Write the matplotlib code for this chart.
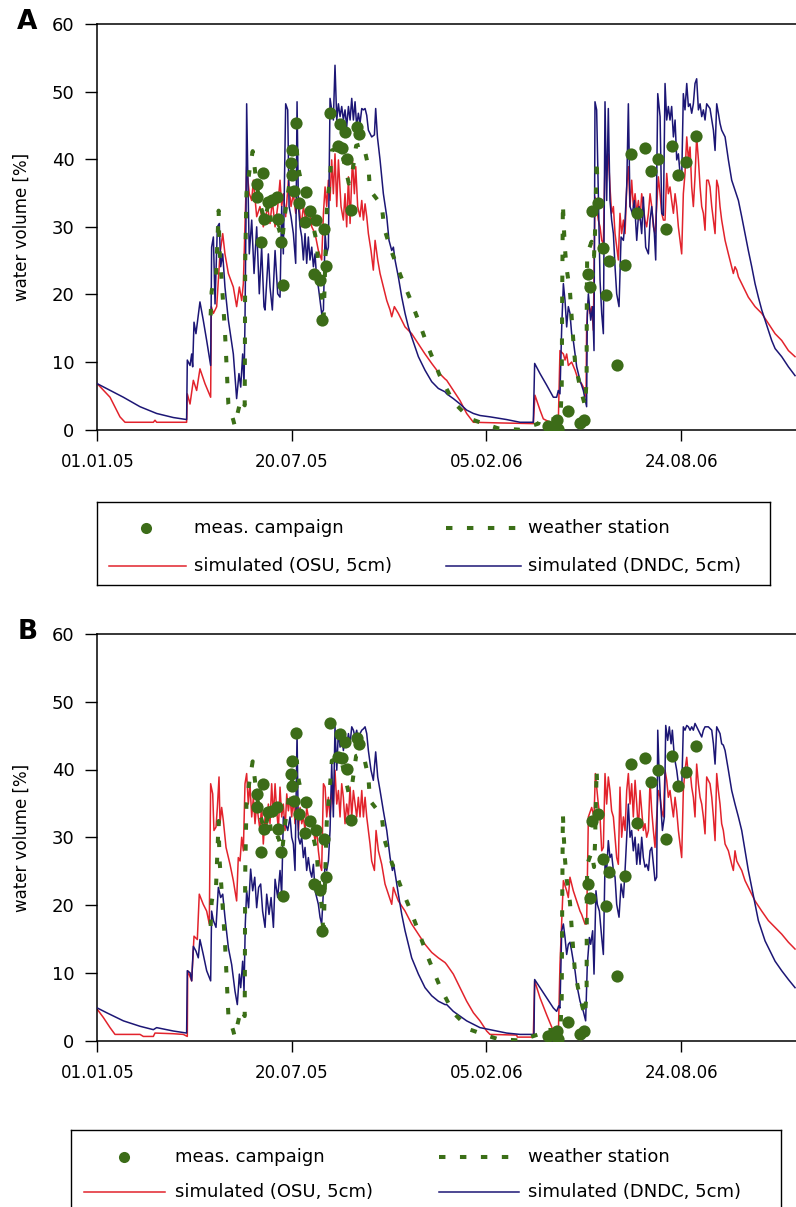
import matplotlib
matplotlib.use("Agg")
import matplotlib.pyplot as plt

plt.rcParams['font.family'] = ['DejaVu Sans']

# ---------------- data (day since 01.01.05, water volume %) ----------------
x_ticks = [0, 200, 400, 600]
x_ticklabels = ["01.01.05", "20.07.05", "05.02.06", "24.08.06"]
y_ticks = [0, 10, 20, 30, 40, 50, 60]

meas_day = [164.5, 164.5, 168.2, 170, 171.7, 175.8, 179.2, 184.4, 186, 188.4, 190.5,
            199, 199.7, 199.7, 202.5, 204.5, 206.8, 213.2, 214.5, 218.6, 222.7,
            224.8, 229, 230.6, 233, 234.7, 239.2, 247, 249.4, 251.1, 254.6,
            257, 260.7, 267.2, 269.3, 463.5, 472, 473.8, 484.1, 496,
            500.1, 504.7, 506.4, 508.4, 514.6, 520.1, 522.5, 526.2, 533.8,
            542.7, 548.5, 554.3, 562.9, 568.7, 576.6, 584.5, 591, 597.1, 605, 615.3]
meas_val = [36.4, 34.4, 27.8, 37.9, 31.2, 33.7, 33.9, 34.4, 31.2, 27.8, 21.4,
            39.4, 41.3, 37.6, 35.3, 45.4, 33.5, 30.7, 35.2, 32.4, 23.1,
            31, 22.2, 16.2, 29.7, 24.2, 46.9, 41.9, 45.2, 41.7, 44,
            40.1, 32.5, 44.7, 43.7, 0.6, 1.4, 0.15, 2.8, 1.0,
            1.4, 23.1, 21.1, 32.4, 33.5, 26.8, 19.9, 24.9, 9.5,
            24.3, 40.8, 32.1, 41.7, 38.2, 40, 29.7, 42, 37.6, 39.6, 43.5]

weather = [(116.5, 16.9), (117.5, 20.4), (119.5, 22.1), (122, 22.6), (124.7, 32.4), (125.5, 27),
           (127.8, 22.1), (131.2, 14.5), (133, 9), (134.7, 3.8), (139.8, 1.4), (141.2, 0.6),
           (147.7, 4.6), (151.5, 3.6), (152, 24.6), (153.3, 35), (156.5, 38.4), (159.7, 41.2),
           (164, 36), (168, 33), (172, 31), (176, 33.5), (180, 29.5), (186, 30), (190, 28),
           (193, 32), (197, 36), (201, 39), (205, 41.3), (207, 38.4), (212, 35), (218, 32),
           (222, 30), (225.5, 27.8), (227.2, 24.1), (231.3, 18.9), (232.4, 15.2), (235.8, 32.2),
           (239.2, 37.6), (241, 41.3), (250, 41.8), (254.6, 39), (258.5, 36.4), (262.2, 38.1),
           (266, 42), (273.5, 42.3), (275.2, 41.1), (278.6, 38.9), (280.3, 35.4), (292.3, 33.2),
           (295, 29.7), (302, 26.5), (312.2, 22.6), (321.4, 19.4), (330.7, 15.9), (339.2, 12.5),
           (352, 8), (365.9, 4.1), (383.3, 1.6), (397, 0.9), (412, 0.2), (434.4, 0), (453.3, 0.9),
           (455, 1.6), (476, 1.5), (477.3, 6.3), (477.8, 20), (478.5, 33.4), (479.5, 30),
           (480.5, 27), (482.4, 23.8), (485.8, 20.4), (487.5, 16.7), (489.2, 13.2), (491, 10),
           (496.1, 6.3), (501.2, 3.6), (502.9, 7.3), (503.1, 20), (503.5, 26), (508, 27.8),
           (510.5, 25.6), (511.5, 29), (513.2, 39.9), (514, 36.4)]

a_osu = [(0, 6.8), (13.1, 4.8), (23.3, 1.9), (28.5, 1.1), (57.6, 1.1), (59.3, 1.4), (61, 1.1), (91.8, 1.1),
         (92.5, 5.3), (95.3, 3.8), (98.7, 7.3), (102.1, 5.8), (105.5, 9.0), (110.7, 6.8), (116.5, 4.8),
         (117.2, 18.2), (119.3, 17.2), (122.7, 18.2), (126.1, 26), (128.9, 29), (131.2, 26), (134.7, 23.1),
         (139.8, 21.1), (143.2, 18.2), (146, 21.1), (148.4, 19.1), (150.1, 21.6), (151.8, 30), (153.5, 38.9),
         (156.2, 34.9), (158.7, 33.9), (160.4, 36.9), (163.8, 31.5), (167.2, 33), (170.6, 30),
         (172.4, 31), (175.1, 33), (177.5, 30.5), (179.9, 33.9), (182.7, 30), (185.4, 33), (187.8, 36.9),
         (189.5, 33), (191.2, 34.9), (193.6, 31.5), (196.4, 36.9), (199.1, 33), (201.5, 34.9), (203.9, 32),
         (206.7, 34.4), (209.4, 30), (211.8, 33), (214.2, 31), (216.9, 33), (220.4, 30), (223.8, 29),
         (227.2, 26.5), (230.6, 25.1), (232.4, 32), (234.1, 35.9), (235.8, 33), (237.5, 36.9), (239.2, 33.9),
         (240.9, 39.9), (242.6, 34.9), (244.3, 40.8), (246.1, 33), (247.8, 39.9), (250.5, 33), (252.9, 31),
         (254.6, 34.9), (256.3, 30), (258.1, 37.4), (259.8, 30.5), (262.2, 39.9), (264.2, 34.9), (265.6, 38.9),
         (267.6, 33), (270, 31.5), (271.8, 33.9), (273.5, 31), (275.2, 33.4), (276.9, 31.5), (278.6, 29),
         (281.3, 26.5), (283.7, 23.6), (285.5, 28), (288.2, 25.1), (290.6, 23.1), (294, 21.1), (297.5, 19.1),
         (300.9, 17.7), (302.6, 16.7), (305.3, 18.2), (309.4, 17.2), (316.3, 15.2), (323.1, 14.2), (330, 12.7),
         (336.8, 11.2), (343.7, 9.8), (350.5, 8.5), (357.4, 7.5),
         (359.1, 7.3), (365.9, 5.8), (372.8, 4.3), (379.6, 2.4), (386.5, 1.1), (413.9, 1.0), (448.1, 0.9),
         (449.8, 5.1), (455, 2.9), (458.4, 1.6), (465.3, 1.1), (473.8, 1.1), (475.5, 11.7), (479, 11.2),
         (480.7, 10.3), (482.4, 11.2), (484.1, 9.5), (487.5, 10), (491, 8.8), (494.4, 7.3), (497.8, 6.8),
         (499.5, 6.3), (502.3, 4.8), (502.9, 15.2), (504.7, 19.1), (506.4, 17.2), (508.1, 18.2), (509.8, 14.7),
         (511.5, 34.4), (513.2, 33), (514.9, 31), (516.7, 30), (518.4, 28), (520.1, 27.5), (521.8, 39.4),
         (523.5, 38.4), (525.2, 40.8), (526.9, 35.9), (528.6, 32), (530.4, 33),
         (532.1, 29), (533.8, 27), (535.5, 25.1), (537.2, 32), (538.9, 29), (540.7, 31), (542.4, 29),
         (544.1, 35.9), (545.8, 38.9), (547.5, 33), (549.2, 36.9), (550.9, 33), (552.7, 34.9), (554.4, 32),
         (556.1, 33.9), (557.8, 31), (559.5, 34.9), (561.2, 33), (562.9, 31), (564.6, 30), (566.4, 32),
         (568.1, 34.9), (569.8, 33), (571.5, 30), (573.2, 29), (574.9, 33), (576.6, 37.4), (578.4, 34.9),
         (580.1, 32), (581.8, 31), (583.5, 31), (585.2, 37.9), (586.9, 34.9), (588.6, 35.9), (590.3, 33.9),
         (592.1, 32), (593.8, 34.9), (595.5, 33), (597.2, 30), (598.9, 28), (600.6, 26), (602.3, 34.9),
         (604, 37.9), (605.8, 43.3), (607.5, 39.9), (609.2, 41.8), (610.9, 35.9), (612.6, 33), (614.3, 37.4),
         (616, 43.3), (617.8, 39.9), (619.5, 35.9), (621.2, 33), (622.9, 32), (624.6, 29.5), (626.3, 36.9),
         (628, 36.9), (629.7, 35.9), (631.5, 33), (633.2, 31), (634.9, 29), (636.6, 36.9), (638.3, 35.9),
         (640, 33), (641.7, 31), (645.2, 28), (648.6, 26), (652, 24.1), (653.7, 23.1), (655.4, 24.1),
         (657.2, 23.6), (658.9, 22.6), (662.3, 21.6), (665.7, 20.6), (669.1, 19.6), (676, 18.2), (682.9, 17.2),
         (689.7, 15.7), (696.6, 14.2), (703.4, 13.2), (710.3, 11.7), (717.1, 10.8)]

a_dndc = [(0, 6.8), (26.8, 4.8), (43.9, 3.4), (61, 2.4), (78.1, 1.8), (91.8, 1.5), (92.5, 10.3), (95.3, 9.5),
          (97, 11.2), (98, 9.3), (99.4, 15.9), (101.4, 14.2), (105.5, 18.9), (108.9, 16.2), (112.4, 13.2),
          (116.5, 9.5), (117.5, 27), (119.3, 28.5), (121, 18.6), (123.4, 30), (125.4, 30.5), (126.8, 24.1),
          (128.9, 26), (131.2, 21.1), (134.7, 16.2), (139.8, 11.2), (143.2, 4.6), (145.6, 8.3), (147.4, 6.3),
          (149.4, 11.2), (150.8, 6.8), (151.8, 16.2), (152.8, 31), (153.5, 48.2), (154.9, 35.9), (156.2, 26),
          (158.7, 31), (161.1, 23.1), (163.8, 30), (166.5, 20.1), (168.9, 27), (171.3, 18.2),
          (172.4, 17.7), (175.8, 26), (177.5, 21.1), (179.9, 17.7), (182.7, 26.5), (185.4, 20.1), (187.8, 19.6),
          (189.5, 33), (191.2, 26), (193.6, 48.2), (195.7, 47.3), (197.1, 33), (199.1, 31.5), (201.5, 29),
          (203.9, 24.6), (205.3, 48.5), (206.7, 33), (208.4, 30), (210.1, 28.5), (211.8, 25.1), (213.5, 29),
          (215.2, 24.6), (216.9, 28.5), (218.6, 25.1), (220.4, 27), (222.1, 24.1), (223.8, 26), (225.5, 22.1),
          (227.2, 21.1), (228.9, 19.1), (230.6, 17.2), (232.4, 17.7), (234.1, 29), (235.8, 26), (237.5, 27),
          (239.2, 49), (240.9, 47.3), (242.6, 45.8), (244.3, 53.9), (246.1, 45.8), (247.8, 48.2), (249.5, 46.3),
          (251.2, 47.8), (252.9, 45.8), (254.6, 47.3), (256.3, 44.8), (258.1, 47.8), (259.8, 45.8), (261.5, 49),
          (263.2, 45.8), (264.9, 48.5), (266.6, 44.8), (268.3, 46.8), (270, 45.3), (271.8, 47.5), (273.5, 47.3),
          (275.2, 47.5), (276.9, 46.5), (278.6, 44.3), (282, 43.3), (284.8, 43.6), (286.1, 47.5), (287.9, 43.3),
          (290.6, 39.9), (294, 34.9), (297.5, 31.5), (299.8, 28), (302.6, 26.5), (304.3, 27), (306, 25.1),
          (309.4, 22.6), (312.9, 19.6), (316.3, 17.2), (319.7, 15.2), (323.1, 13.7), (330, 10.8), (336.8, 8.8),
          (343.7, 7.1), (350.5, 6.1), (357.4, 5.6),
          (359.1, 5.3), (365.9, 4.6), (372.8, 3.8), (379.6, 2.9), (386.5, 2.4), (393.3, 2.1), (403.6, 1.9),
          (420.7, 1.5), (434.4, 1.1), (448.1, 1.1), (449.5, 9.8), (455, 8.3), (461.8, 6.6), (468.7, 4.8),
          (472.1, 4.8), (473.8, 5.8), (475.5, 5.3), (477.3, 15.2), (479, 21.6), (480.7, 19.1), (482.4, 15.2),
          (484.1, 18.2), (485.8, 17.2), (487.5, 14.2), (489.2, 13.2), (492.7, 9.3), (496.1, 7.3), (499.5, 5.8),
          (502.9, 3.4), (503.6, 17.2), (504.7, 20.1), (507.1, 16.2), (509.1, 18.2), (510.5, 11.7), (511.5, 48.5),
          (513.2, 47.3), (514.9, 34.9), (516.7, 22.1), (518.4, 17.2), (520.1, 14.2), (521.8, 48.5), (523.5, 33.9),
          (525.2, 47.5), (526.9, 33.9), (528.6, 31), (530.4, 29),
          (532.1, 24.1), (533.8, 20.1), (536.2, 18.2), (538.3, 28.5), (540.7, 28), (542.4, 31), (544.1, 35.9),
          (545.8, 48.2), (547.5, 33), (549.9, 32), (552, 33.9), (554.4, 28), (556.8, 33), (559.5, 29),
          (561.2, 34.4), (563.6, 27), (566.4, 26), (568.1, 31), (569.8, 33), (572.5, 29), (573.9, 25.1),
          (576, 49.7), (578.4, 46.3), (580.1, 32), (581.8, 31.7), (583.5, 51.2), (585.2, 45.8), (586.9, 47.8),
          (588.6, 45.8), (590.3, 47.8), (592.1, 43.3), (593.8, 45.8), (595.5, 39.9), (597.2, 40.8), (598.9, 37.9),
          (600.6, 36.9), (602.3, 49.7), (604, 47.3), (605.8, 51.2), (607.5, 47.8), (609.2, 48.2), (610.9, 46.8),
          (612.6, 48.2), (614.3, 51.2), (616, 51.9), (617.8, 47.3), (619.5, 48.2), (621.2, 46.3), (622.9, 47.3),
          (624.6, 45.8), (626.3, 48.2), (629.7, 47.5), (631.5, 45.8), (633.2, 44.3), (634.9, 41.3), (636.6, 48.2),
          (638.3, 46.8), (640, 45.3), (641.7, 44.3), (643.4, 43.8), (645.2, 43.3), (648.6, 39.9), (652, 36.9),
          (655.4, 35.4), (658.9, 33.9), (662.3, 31.5), (665.7, 29), (669.1, 26.5), (672.6, 24.1), (676, 21.6),
          (679.4, 19.6), (682.9, 17.7), (686.3, 16.2), (689.7, 14.7), (693.1, 13.2), (696.6, 12), (703.4, 10.8),
          (710.3, 9.3), (717.1, 8)]

b_osu = [(0, 4.6), (6.2, 3.4), (13.1, 1.9), (18.2, 0.9), (43.9, 0.9), (47.3, 0.6), (57.6, 0.6), (59.3, 1.1),
         (78.1, 1.0), (88.4, 0.9), (92.5, 0.6), (92.9, 10.3), (97, 8.8), (99.4, 15.4), (102.8, 14.9),
         (104.8, 21.6), (108.9, 20.1), (112.4, 19.1), (115.1, 17.2), (116.5, 37.9), (118.6, 36.4), (119.9, 31),
         (122, 31.5), (123.4, 34.4), (125.1, 38.9), (126.1, 32), (127.8, 34.4), (129.5, 32.5), (132.3, 28.5),
         (136.4, 26), (139.8, 23.6), (143.2, 20.6), (144.9, 27), (146.7, 26.5), (148.4, 30), (150.1, 28),
         (151.8, 37.9), (153.5, 39.4), (155.2, 34.9), (156.9, 37.9), (158.7, 33), (160.4, 35.9), (162.1, 32),
         (163.8, 34.9), (165.5, 33), (167.2, 31), (168.9, 34.9), (170.6, 29),
         (172.4, 33), (174.1, 31), (175.8, 34.9), (177.5, 32), (179.2, 37.9), (181, 33), (182.7, 37.9),
         (184.4, 33.9), (186.1, 31), (187.8, 37.4), (189.5, 33), (191.2, 34.9), (193, 31), (194.7, 36.4),
         (196.4, 33.9), (198.1, 35.9), (199.8, 33), (201.5, 35.9), (203.2, 32), (204.9, 34.9), (206.7, 31),
         (208.4, 34.4), (210.1, 32), (211.8, 33), (213.5, 31), (215.2, 34.4), (216.9, 33), (218.6, 32),
         (220.4, 33), (222.1, 31), (223.8, 29.5), (225.5, 31), (227.2, 28), (228.9, 26), (230.6, 25.1),
         (232.4, 37.9), (234.1, 37.4), (235.8, 33), (237.5, 35.9), (239.2, 33), (240.9, 36.9), (242.6, 34.9),
         (244.3, 39.9), (246.1, 34.9), (247.8, 36.9), (249.5, 33), (251.2, 37.9), (252.9, 35.9), (254.6, 32),
         (256.3, 34.9), (258.1, 33), (259.8, 37.4), (261.5, 33), (263.2, 36.9), (264.9, 34.9), (266.6, 33),
         (268.3, 35.9), (270, 33), (271.8, 36.9), (273.5, 33), (275.2, 35.9), (276.9, 33), (278.6, 31),
         (280.3, 29), (282, 26.5), (284.8, 25.1), (286.5, 31), (288.9, 28), (292.3, 26), (295.7, 23.1),
         (299.2, 21.6), (302.6, 20.1), (304.3, 22.6), (306.7, 21.6), (309.4, 20.6), (316.3, 19.1), (323.1, 17.2),
         (330, 15.7), (336.8, 14.2), (343.7, 13), (350.5, 12.2), (357.4, 11.5),
         (359.1, 11.2), (365.9, 9.8), (372.8, 7.8), (379.6, 5.8), (386.5, 4.1), (393.3, 2.9), (400.2, 1.4),
         (403.6, 0.9), (431, 0.8), (431.7, 0.5), (448.1, 0.5), (449.5, 8.8), (455, 6.3), (461.8, 3.8),
         (468.7, 1.4), (473.8, 0.6), (475.5, 11.2), (477.3, 17.7), (479, 23.6), (482.4, 22.1), (484.1, 21.1),
         (485.8, 24.1), (489.2, 22.1), (492.7, 20.6), (496.1, 19.1), (497.8, 18.6), (501.2, 17.2), (502.9, 17.2),
         (504.7, 33), (508.1, 34.4), (510.5, 33), (511.9, 39.4), (513.2, 37.4), (514.9, 34.9), (516.7, 33),
         (518.4, 28), (520.1, 28.5), (521.8, 39.4), (523.5, 34.9), (525.2, 38.9), (526.9, 36.9), (528.6, 33.9),
         (530.4, 33),
         (532.1, 30), (533.8, 27), (535.5, 26), (537.2, 37.4), (538.9, 30), (540.7, 33), (542.4, 31),
         (544.1, 36.9), (545.8, 39.4), (547.5, 34.9), (549.2, 37.9), (550.9, 33), (552.7, 38.4), (554.4, 34.9),
         (556.1, 31), (557.8, 36.9), (559.5, 33.9), (561.2, 31), (562.9, 32), (564.6, 30), (566.4, 31),
         (568.1, 38.4), (569.8, 33.9), (571.5, 31), (573.2, 28.5), (574.9, 33), (576.6, 36.9), (578.4, 35.9),
         (580.1, 33.9), (581.8, 33), (583.5, 39.9), (585.2, 38.4), (586.9, 35.9), (588.6, 36.9), (590.3, 34.9),
         (592.1, 33), (593.8, 35.9), (595.5, 33.9), (597.2, 31), (598.9, 29), (600.6, 27), (602.3, 36.9),
         (604, 39.9), (605.8, 41.8), (607.5, 38.9), (609.2, 39.9), (610.9, 37.4), (612.6, 35.9), (614.3, 33),
         (616, 40.8), (617.8, 37.9), (619.5, 35.9), (621.2, 34.9), (622.9, 33), (624.6, 30.5), (626.3, 38.9),
         (628, 38.4), (629.7, 37.9), (631.5, 35.9), (633.2, 33), (634.9, 29.5), (636.6, 39.4), (638.3, 36.9),
         (640, 34.9), (641.7, 32), (643.4, 31), (645.2, 29), (648.6, 28), (652, 26), (653.7, 25.1), (655.4, 28),
         (657.2, 26.5), (658.9, 26), (662.3, 25.1), (665.7, 23.6), (669.1, 22.6), (672.6, 21.6), (676, 20.6),
         (682.9, 19.1), (689.7, 17.7), (696.6, 16.7), (703.4, 15.7), (710.3, 14.5), (717.1, 13.5)]

b_dndc = [(0, 4.8), (9.6, 4.1), (26.8, 2.9), (43.9, 2.1), (57.6, 1.6), (61, 1.9), (78.1, 1.4), (91.8, 1.1),
          (92.5, 10.3), (95.3, 10), (97, 8.8), (98.7, 13.9), (101.4, 13.2), (103.8, 12.2), (105.5, 14.9),
          (108.9, 12.7), (112.4, 10.3), (116.5, 8.8), (117.5, 19.1), (119.3, 17.7), (122, 16.7), (124.4, 22.6),
          (126.8, 21.1), (128.9, 21.6), (131.2, 18.2), (134.7, 13.7), (138.1, 11.2), (141.5, 7.3), (143.9, 5.3),
          (146, 9.8), (147.4, 7.8), (149.4, 11.7), (150.8, 7.3), (152.1, 17.2), (153.5, 22.1), (155.5, 19.6),
          (157.6, 25.3), (159.7, 22.1), (161.8, 24.1), (163.8, 19.6), (165.8, 22.6), (167.9, 23.1), (169.9, 19.1),
          (172.4, 16.7), (174.1, 21.6), (176.5, 18.6), (178.6, 21.1), (181, 16.7), (182.7, 23.8), (185.4, 21.1),
          (187.8, 25.1), (189.5, 21.6), (191.2, 33), (193.6, 32), (195.7, 31), (198.1, 33), (199.8, 30),
          (201.5, 29), (203.2, 25.1), (205.3, 45.3), (206.7, 30), (208.4, 29), (210.1, 30), (211.8, 27),
          (213.5, 28.5), (215.2, 25.1), (216.9, 27), (218.6, 25.1), (220.4, 24.1), (222.1, 26), (223.8, 22.1),
          (225.5, 21.1), (227.2, 20.1), (228.9, 18.2), (230.6, 17.2), (232.4, 22.1), (234.1, 26), (235.8, 25.1),
          (237.5, 26.5), (239.2, 31), (240.9, 40.8), (242.6, 33), (244.3, 46.3), (246.1, 39.9), (247.8, 45.8),
          (249.5, 43.3), (251.2, 45.3), (252.9, 42.8), (254.6, 44.8), (256.3, 43.3), (258.1, 45.3), (259.8, 43.8),
          (261.5, 46.3), (263.2, 45.8), (264.9, 44.8), (266.6, 45.8), (268.3, 44.3), (270, 45.3), (271.8, 45.8),
          (273.5, 46), (275.2, 46.3), (276.9, 45.3), (278.6, 42.8), (281.3, 39.9), (283.7, 38.4), (286.1, 42.6),
          (288.2, 38.9), (290.6, 36.9), (294, 33.9), (297.5, 31), (300.9, 27), (303.3, 25.1), (304.6, 26),
          (306.7, 24.1), (309.4, 21.6), (312.9, 18.6), (316.3, 16.2), (319.7, 14.2), (323.1, 12.2), (330, 9.8),
          (336.8, 7.8), (343.7, 6.6), (350.5, 5.8), (357.4, 5.3),
          (359.1, 5.3), (365.9, 4.3), (372.8, 3.6), (379.6, 2.9), (386.5, 2.4), (393.3, 1.9), (403.6, 1.6),
          (420.7, 1.1), (434.4, 0.9), (448.8, 0.9), (449.5, 9.0), (455, 7.8), (461.8, 6.3), (468.7, 4.8),
          (472.1, 4.3), (474.2, 5.1), (475.5, 4.8), (477.3, 16.2), (479, 17.2), (480.7, 15.2), (482.4, 12.7),
          (484.1, 14.2), (485.8, 14.5), (487.5, 13.2), (489.2, 11.7), (491, 10.3), (492.7, 8.3), (496.1, 5.8),
          (499.5, 4.3), (501.9, 2.9), (503.6, 11.2), (505.7, 15.2), (507.1, 14.2), (509.1, 16.2), (510.5, 9.8),
          (512.5, 22.1), (513.9, 20.1), (516, 19.1), (518.4, 15.2), (520.1, 12.7), (521.8, 26), (523.5, 25.1),
          (525.2, 29.5), (526.9, 27), (528.6, 27.5), (530.4, 25.1),
          (532.1, 24.1), (533.8, 20.1), (536.2, 18.2), (538.3, 23.1), (540.7, 21.1), (542.4, 25.1), (544.1, 30),
          (545.8, 34.9), (547.5, 30), (549.2, 31), (550.9, 28), (552.7, 30), (554.4, 26), (556.1, 29),
          (557.8, 26), (559.5, 30), (561.2, 27), (562.9, 25.6), (564.6, 26), (566.4, 25.1), (568.1, 28),
          (569.8, 28.5), (571.5, 26), (573.2, 23.6), (574.9, 24.1), (576, 45.8), (577.3, 39.9), (579, 34.9),
          (580.8, 31), (582.8, 33), (584.2, 46.5), (586.2, 44.3), (587.9, 46.3), (589.7, 43.8), (591, 45.8),
          (593.1, 41.8), (595.5, 39.9), (597.2, 37.9), (598.9, 37.4), (600.6, 36.9), (602.3, 46.3), (604, 45.8),
          (605.8, 46.5), (607.5, 46.3), (609.2, 45.8), (610.9, 46.3), (612.6, 45.8), (614.3, 46.8), (616, 46.3),
          (617.8, 45.8), (619.5, 45.3), (621.2, 44.8), (622.9, 45.8), (624.6, 46.3), (628, 46.3), (631.5, 45.8),
          (633.2, 43.8), (634.9, 40.8), (636.6, 46.3), (638.3, 45.8), (640, 45.3), (641.7, 43.8), (643.4, 43.6),
          (645.2, 42.8), (648.6, 39.9), (652, 36.9), (655.4, 34.9), (658.9, 33), (662.3, 31), (665.7, 28),
          (669.1, 25.1), (672.6, 22.6), (676, 20.1), (679.4, 17.7), (682.9, 16.2), (686.3, 14.7), (689.7, 13.7),
          (693.1, 12.7), (696.6, 11.7), (703.4, 10.3), (710.3, 9.0), (717.1, 7.8)]

legend_labels = ["meas. campaign", "weather station", "simulated (OSU, 5cm)", "simulated (DNDC, 5cm)"]

# ---------------- style ----------------
W, H = 796, 1207
RED = '#e2232c'
BLUE = '#1c1675'
GREEN = '#3c6c18'
WGREEN = '#3b6f17'
FS = 13

fig = plt.figure(figsize=(W / 100, H / 100), dpi=100)


def px_axes(x0, y0, x1, y1):
    return fig.add_axes([x0 / W, 1 - y1 / H, (x1 - x0) / W, (y1 - y0) / H])


def draw_panel(ax, osu, dndc):
    d, v = zip(*osu)
    ax.plot(d, v, color=RED, lw=1.1, zorder=2)
    d, v = zip(*dndc)
    ax.plot(d, v, color=BLUE, lw=1.1, zorder=3)
    d, v = zip(*weather)
    ax.plot(d, v, color=WGREEN, lw=2.9, linestyle=(0, (1.6, 3.6)), zorder=4)
    ax.plot(meas_day, meas_val, 'o', color=GREEN, markersize=8.8, markeredgewidth=0, zorder=5)
    ax.set_xlim(0, 718.5)
    ax.set_ylim(0, 60)
    ax.set_xticks(x_ticks)
    ax.set_xticklabels(x_ticklabels, fontsize=12)
    ax.set_yticks(y_ticks)
    ax.set_yticklabels([str(t) for t in y_ticks], fontsize=FS)
    ax.tick_params(axis='y', direction='out', length=8.5, width=1.0, pad=8)
    ax.tick_params(axis='x', direction='out', length=8, width=1.0, pad=9)
    ax.spines['right'].set_visible(False)
    for s in ['left', 'bottom', 'top']:
        ax.spines[s].set_linewidth(1.1)


def draw_legend(box, rows, mk_x, t1_x, red_x, dash_x, t2_x):
    x0, y0, x1, y1 = box
    lax = px_axes(x0, y0, x1, y1)
    lax.set_xlim(x0, x1)
    lax.set_ylim(y1, y0)
    lax.set_xticks([])
    lax.set_yticks([])
    for s in lax.spines.values():
        s.set_linewidth(1.0)
    r1, r2 = rows
    lax.plot([mk_x], [r1], 'o', color=GREEN, markersize=8.0, markeredgewidth=0)
    lax.text(t1_x, r1, legend_labels[0], fontsize=FS, va='center', ha='left')
    lax.plot(dash_x, [r1, r1], color=WGREEN, lw=2.9, linestyle=(0, (1.6, 3.6)))
    lax.text(t2_x, r1, legend_labels[1], fontsize=FS, va='center', ha='left')
    lax.plot(red_x, [r2, r2], color=RED, lw=1.1)
    lax.text(t1_x, r2, legend_labels[2], fontsize=FS, va='center', ha='left')
    lax.plot(dash_x, [r2, r2], color=BLUE, lw=1.1)
    lax.text(t2_x, r2, legend_labels[3], fontsize=FS, va='center', ha='left')


axA = px_axes(97.3, 24, 796.4, 429.7)
draw_panel(axA, a_osu, a_dndc)
axB = px_axes(97.3, 634, 796.4, 1040.5)
draw_panel(axB, b_osu, b_dndc)

fig.text(27.5 / W, 1 - 22 / H, 'A', fontsize=19, fontweight='bold', ha='center', va='center')
fig.text(27.5 / W, 1 - 632 / H, 'B', fontsize=19, fontweight='bold', ha='center', va='center')
fig.text(22 / W, 1 - 227 / H, 'water volume [%]', fontsize=12, rotation=90, ha='center', va='center')
fig.text(22 / W, 1 - 838 / H, 'water volume [%]', fontsize=12, rotation=90, ha='center', va='center')

draw_legend((97, 502, 770, 585), (528, 566.5), 145.5, 194, [109, 186], [446, 521], 528)
draw_legend((70.5, 1130, 781, 1220), (1156.7, 1191.7), 123.5, 175, [84.4, 165], [439, 519.4], 528)

fig.savefig('out.png', dpi=100)
